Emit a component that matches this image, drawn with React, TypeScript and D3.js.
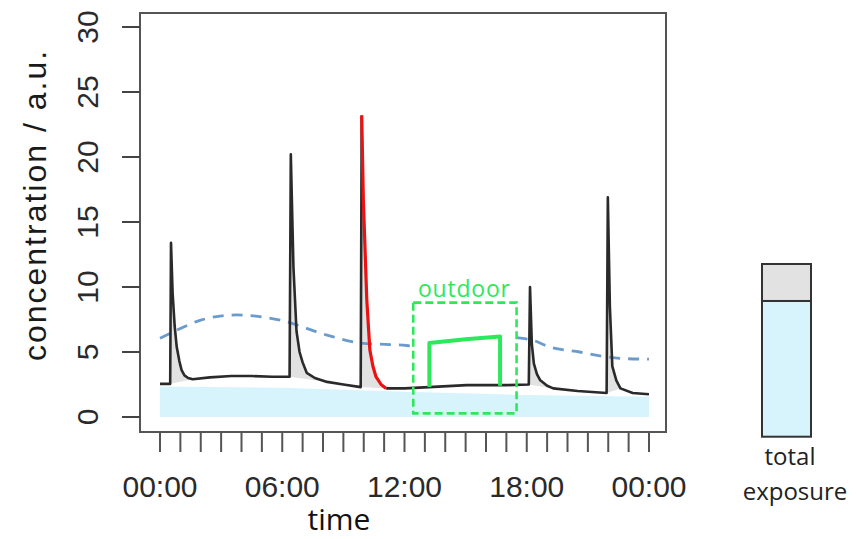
import React from "react";
import * as d3 from "d3";

type P = [number, number];

// black indoor concentration (hours, a.u.) up to third peak
const blackA: P[] = [
  [0, 2.55], [0.5, 2.55], [0.54, 13.4], [0.62, 9.5], [0.72, 7.0], [0.82, 5.4], [0.95, 4.3],
  [1.06, 3.6], [1.2, 3.2], [1.38, 3.0], [1.6, 2.9], [2.45, 3.05], [3.5, 3.15], [4.5, 3.15],
  [5.5, 3.1], [6.36, 3.1], [6.42, 20.2], [6.55, 11.5], [6.7, 6.6], [6.85, 5.0], [7.0, 4.2],
  [7.2, 3.4], [7.6, 3.0], [8.2, 2.7], [9.0, 2.5], [9.85, 2.3], [9.9, 23.2],
];
// red decay after third peak
const redDecay: P[] = [
  [9.9, 23.2], [9.98, 16.7], [10.15, 9.0], [10.3, 5.15], [10.45, 3.9], [10.6, 3.1],
  [10.85, 2.5], [11.1, 2.2],
];
// black after the red decay
const blackB: P[] = [
  [11.1, 2.2], [12, 2.2], [13.2, 2.3], [15.05, 2.45], [17, 2.45], [18.1, 2.5], [18.16, 10.0],
  [18.25, 5.6], [18.35, 4.1], [18.5, 3.3], [18.65, 2.85], [19.0, 2.4], [19.3, 2.2], [20.5, 2.0],
  [21.92, 1.85], [21.98, 16.9], [22.08, 8.5], [22.2, 3.9], [22.4, 2.8], [22.6, 2.2], [23.2, 1.85],
  [24, 1.75],
];
// windows (hours) of the grey excess area under peaks
const peakWindows: P[] = [[0.5, 1.6], [6.36, 8.5], [9.85, 11.1], [18.1, 19.4], [21.92, 23.0]];
// light-blue background level
const background: P[] = [[0, 2.35], [6, 2.25], [12, 1.95], [18, 1.7], [24, 1.55]];
// dashed outdoor concentration, interrupted by the outdoor box
const outdoorA: P[] = [[0, 6.05], [1, 6.8], [2, 7.45], [3.75, 7.85], [5.9, 7.45], [8.2, 6.3], [9.8, 5.7], [12.1, 5.5], [12.43, 5.45]];
const outdoorB: P[] = [[17.5, 6.1], [18.3, 5.9], [19.1, 5.4], [20.6, 5.0], [21.6, 4.7], [22.7, 4.5], [24, 4.45]];
// green outdoor exposure
const outdoorStep: P[] = [[13.22, 2.3], [13.22, 5.7], [15.0, 5.98], [16.69, 6.2], [16.69, 2.4]];
const outdoorBoxX: P = [12.43, 17.5];
const outdoorBoxY: P = [0.28, 8.8];

const yTicks = [0, 5, 10, 15, 20, 25, 30];
const xMinorTicks = d3.range(0, 25);
const xLabelHours = [0, 6, 12, 18, 24];
const xLabels = ["00:00", "06:00", "12:00", "18:00", "00:00"];

const exposureParts = [
  { name: "background", value: 78.6 },
  { name: "peaks", value: 21.4 },
];

export default function App() {
  const x = d3.scaleLinear().domain([0, 24]).range([160, 649]);
  const y = d3.scaleLinear().domain([0, 30]).range([417, 27]);
  const line = d3.line<P>().x((d) => x(d[0])).y((d) => y(d[1]));
  const smooth = d3.line<P>().x((d) => x(d[0])).y((d) => y(d[1])).curve(d3.curveMonotoneX);
  const area = d3.area<P>().x((d) => x(d[0])).y0(y(0)).y1((d) => y(d[1]));
  const full: P[] = [...blackA, ...redDecay.slice(1), ...blackB.slice(1)];
  const green = "#2ee85c";

  const total = d3.sum(exposureParts, (d) => d.value);
  const by = d3.scaleLinear().domain([0, total]).range([436.7, 264]);
  let acc = 0;
  const stacks = exposureParts.map((p) => {
    const s = { ...p, y0: acc, y1: acc + p.value };
    acc += p.value;
    return s;
  });
  const barFill = ["#d7f4fd", "#e2e2e2"];

  return (
    <svg width={856} height={539} style={{ position: "absolute", left: 0, top: 0, background: "#fff" }}>
      <path d={area(background) || ""} fill="#d7f4fd" />
      {peakWindows.map((w, i) => {
        const pts = full.filter((d) => d[0] >= w[0] - 1e-9 && d[0] <= w[1] + 1e-9);
        return <path key={i} d={(line(pts) || "") + "Z"} fill="#e2e2e2" />;
      })}
      <path d={smooth(outdoorA) || ""} fill="none" stroke="#6b9bcc" strokeWidth={2.8} strokeDasharray="11 8" />
      <path d={smooth(outdoorB) || ""} fill="none" stroke="#6b9bcc" strokeWidth={2.8} strokeDasharray="11 8" />
      <path d={line(blackA) || ""} fill="none" stroke="#2a2a2a" strokeWidth={2.6} strokeLinejoin="round" />
      <path d={line(blackB) || ""} fill="none" stroke="#2a2a2a" strokeWidth={2.6} strokeLinejoin="round" />
      <path d={line(redDecay) || ""} fill="none" stroke="#ee1111" strokeWidth={3.2} strokeLinejoin="round" />
      <rect
        x={x(outdoorBoxX[0])}
        y={y(outdoorBoxY[1])}
        width={x(outdoorBoxX[1]) - x(outdoorBoxX[0])}
        height={y(outdoorBoxY[0]) - y(outdoorBoxY[1])}
        fill="none"
        stroke={green}
        strokeWidth={2.6}
        strokeDasharray="8 4"
      />
      <path d={line(outdoorStep) || ""} fill="none" stroke={green} strokeWidth={4} strokeLinejoin="round" />
      <text x={464} y={297} textAnchor="middle" fontFamily="Open Sans" fontSize={23} fill={green} textLength={92} lengthAdjust="spacing">outdoor</text>

      {/* frame */}
      <rect x={140} y={13} width={526} height={419} fill="none" stroke="#555" strokeWidth={2} />
      {/* y axis */}
      {yTicks.map((t) => (
        <g key={t}>
          <line x1={122} x2={140} y1={y(t)} y2={y(t)} stroke="#444" strokeWidth={2} />
          <text transform={`translate(98,${y(t)}) rotate(-90)`} textAnchor="middle" fontFamily="Liberation Sans, Arial, sans-serif" fontSize={30} fill="#2a2a2a">{t}</text>
        </g>
      ))}
      <text transform={`translate(46,205) rotate(-90)`} textAnchor="middle" fontFamily="Liberation Sans, Arial, sans-serif" fontSize={32} letterSpacing={2} fill="#1a1a1a">concentration / a.u.</text>
      {/* x axis */}
      {xMinorTicks.map((h) => (
        <line key={h} x1={x(h)} x2={x(h)} y1={433} y2={452} stroke="#555" strokeWidth={2} />
      ))}
      {xLabelHours.map((h, i) => (
        <text key={i} x={x(h)} y={497} textAnchor="middle" fontFamily="Liberation Sans, Arial, sans-serif" fontSize={30} fill="#2a2a2a">{xLabels[i]}</text>
      ))}
      <text x={339} y={530} textAnchor="middle" fontFamily="Open Sans" fontSize={30} fill="#111">time</text>

      {/* total exposure bar */}
      {stacks.map((s, i) => (
        <rect key={s.name} x={762} width={49} y={by(s.y1)} height={by(s.y0) - by(s.y1)} fill={barFill[i]} stroke="#333" strokeWidth={2} />
      ))}
      <text x={790} y={465} textAnchor="middle" fontFamily="Open Sans" fontSize={24} fill="#222">total</text>
      <text x={795} y={500} textAnchor="middle" fontFamily="Open Sans" fontSize={24} fill="#222">exposure</text>
    </svg>
  );
}
